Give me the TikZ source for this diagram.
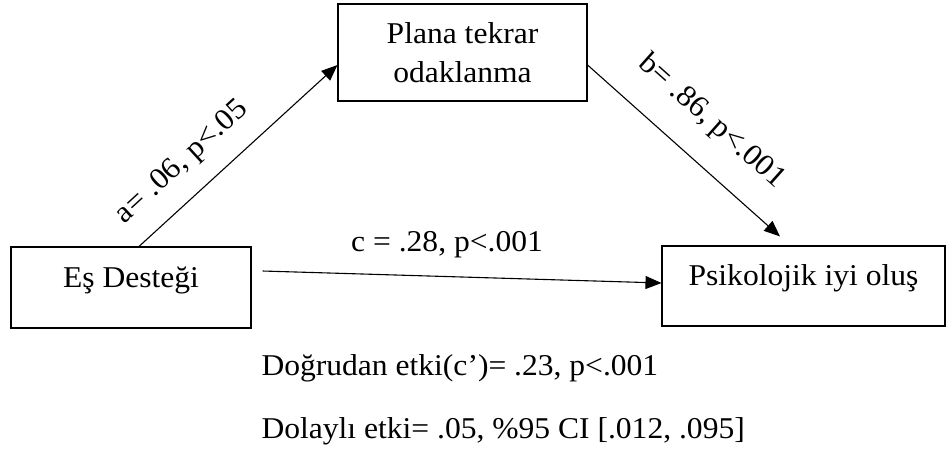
\documentclass[tikz,border=0pt]{standalone}
\usepackage{fontspec}
\setmainfont{Liberation Serif}[FakeStretch=1.045]
\usetikzlibrary{arrows.meta}
\tikzset{every picture/.style={line width=0.55pt}}
\tikzset{kutu/.style={draw, rectangle, inner sep=0pt}}

\begin{document}
\begin{tikzpicture}[x=0.5pt, y=0.5pt, >={Triangle[length=8pt,width=6.5pt]}, font=\fontsize{15.1}{19.5}\selectfont]
        \useasboundingbox (0,0) rectangle (946,452);
        % değişkenler
        \node[kutu, minimum width=120pt, text height=20pt, text depth=20.5pt] (esd) at (131,164.5) {Eş Desteği};
        \node[kutu, align=center, minimum width=124.5pt, minimum height=48.5pt] (plan) at (462.5,399.5) {Plana tekrar\\odaklanma};
        \node[kutu, minimum width=141.5pt, text height=19.5pt, text depth=20.5pt] (psi) at (803.5,166) {Psikolojik iyi oluş};
        % yollar a, b ve c
        \coordinate (cbas) at ([xshift=5.5pt, yshift=8.25pt]esd.east);
        \draw[->] ([xshift=4pt]esd.north) -- node (yola) [pos=0.33, sloped, above=9.5pt, inner sep=0pt] {a= .06, p<.05} ([yshift=-6.25pt]plan.west);
        \draw[->] ([yshift=-6.25pt]plan.east) -- node (yolb) [pos=0.506, sloped, above=13pt, inner sep=0pt] {b= .86, p<.001} ([xshift=-11.75pt, yshift=4.5pt]psi.north);
        \draw[->] (cbas) -- node (yolc) [pos=0.4625, anchor=base, yshift=12.3pt] {c = .28, p<.001} ([yshift=1.5pt]psi.west);
        % etkiler
        \node[anchor=base west, inner sep=0pt] (dogrudan) at (261,77) {Doğrudan etki(c’)= .23, p<.001};
        \node[anchor=base west, inner sep=0pt] (dolayli) at (261,14) {Dolaylı etki= .05, \%95 CI [.012, .095]};
    \end{tikzpicture}
\end{document}
